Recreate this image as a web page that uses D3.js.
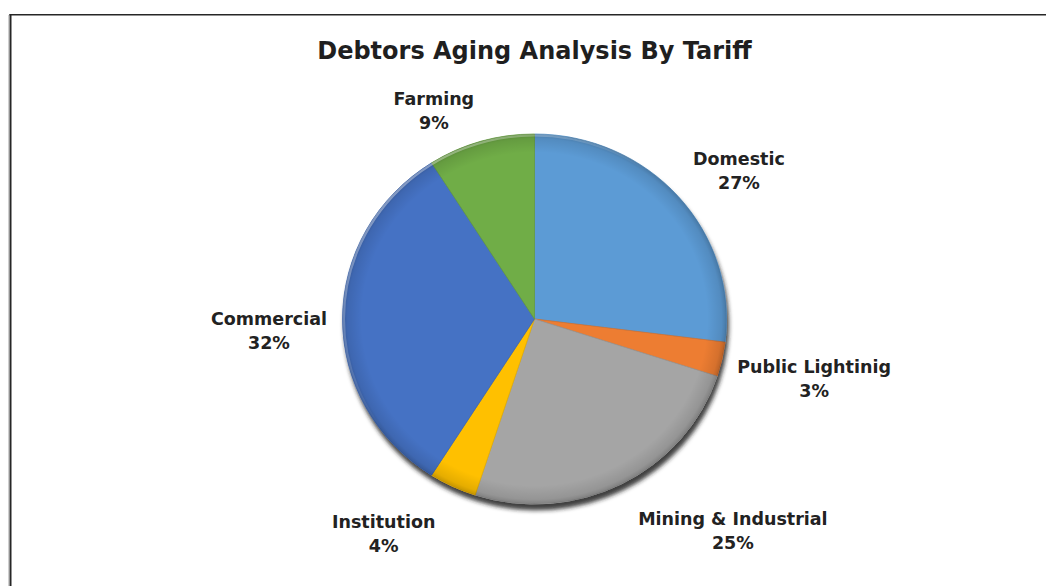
<!DOCTYPE html>
<html>
<head>
<meta charset="utf-8">
<script src="https://cdn.jsdelivr.net/npm/d3@7"></script>
<style>
  html, body { margin: 0; padding: 0; background: #fff; }
  svg { display: block; }
</style>
</head>
<body>
<svg id="chart" width="1046" height="586"></svg>
<script>
// Tariff categories and their share of outstanding debtors (%)
const categories = ["Domestic", "Public Lightinig", "Mining & Industrial", "Institution", "Commercial", "Farming"];
const shares = [27, 3, 25, 4, 32, 9];
const sliceColors = ["#5B9BD5", "#ED7D31", "#A5A5A5", "#FFC000", "#4472C4", "#70AD47"];

// Label placement around the pie: [angle in degrees clockwise from 12 o'clock, distance from centre]
const labelPolar = [[53.0, 256], [100.9, 284.7], [136.1, 286.1], [215.8, 257.8], [268.7, 265.6], [334.8, 236.4]];

const W = 1046, H = 586;
const cx = 534.5, cy = 319, rx = 192, ry = 185;

const svg = d3.select("#chart");
const defs = svg.append("defs");

// dark shadow under the pie, offset toward the lower right
const shadow = defs.append("filter").attr("id", "pieShadow")
  .attr("filterUnits", "userSpaceOnUse")
  .attr("x", 0).attr("y", 0).attr("width", W).attr("height", H);
shadow.append("feDropShadow")
  .attr("dx", 2).attr("dy", 6).attr("stdDeviation", 2.2)
  .attr("flood-color", "#1a1a1a").attr("flood-opacity", 0.85);

// bevel shading overlay: darker rim toward the edge
const rim = defs.append("radialGradient").attr("id", "rimShade")
  .attr("cx", "50%").attr("cy", "50%").attr("r", "50%");
rim.append("stop").attr("offset", "0.90").attr("stop-color", "#000").attr("stop-opacity", 0);
rim.append("stop").attr("offset", "0.975").attr("stop-color", "#000").attr("stop-opacity", 0.10);
rim.append("stop").attr("offset", "1").attr("stop-color", "#000").attr("stop-opacity", 0.22);

// light rim on the upper-left edge
const hi = defs.append("linearGradient").attr("id", "lightEdge")
  .attr("x1", "0").attr("y1", "0").attr("x2", "1").attr("y2", "1");
hi.append("stop").attr("offset", "0").attr("stop-color", "#fff").attr("stop-opacity", 0.55);
hi.append("stop").attr("offset", "0.45").attr("stop-color", "#fff").attr("stop-opacity", 0);

// chart frame (top and left edges visible)
svg.append("line").attr("x1", 8.5).attr("x2", 8.5).attr("y1", 15).attr("y2", H)
  .attr("stroke", "#cfcfcf").attr("stroke-width", 1);
svg.append("line").attr("x1", 10.5).attr("x2", 10.5).attr("y1", 14).attr("y2", H)
  .attr("stroke", "#262626").attr("stroke-width", 2);
svg.append("line").attr("x1", 9.5).attr("x2", W).attr("y1", 14.75).attr("y2", 14.75)
  .attr("stroke", "#262626").attr("stroke-width", 1.5);

// title
svg.append("text")
  .attr("x", cx).attr("y", 59)
  .attr("text-anchor", "middle")
  .attr("font-family", "'DejaVu Sans', Verdana, sans-serif")
  .attr("font-weight", "bold")
  .attr("font-size", 24)
  .attr("fill", "#1f1f1f")
  .text("Debtors Aging Analysis By Tariff");

const data = categories.map((c, i) => ({ name: c, value: shares[i], color: sliceColors[i] }));
const pie = d3.pie().value(d => d.value).sort(null);
const arcs = pie(data);

// unit-radius arc drawn inside a group scaled to the ellipse
const arc = d3.arc().innerRadius(0).outerRadius(1);

// shadow applied in unscaled page space
const shadowG = svg.append("g").attr("filter", "url(#pieShadow)");
const pieG = shadowG.append("g")
  .attr("transform", `translate(${cx},${cy}) scale(${rx},${ry})`);

pieG.selectAll("path.slice")
  .data(arcs)
  .join("path")
  .attr("class", "slice")
  .attr("d", arc)
  .attr("fill", d => d.data.color)
  .attr("stroke", d => d3.color(d.data.color).darker(0.25))
  .attr("stroke-width", 0.004);

// rim shading and highlight
const overG = svg.append("g")
  .attr("transform", `translate(${cx},${cy}) scale(${rx},${ry})`);
overG.append("circle").attr("r", 1).attr("fill", "url(#rimShade)");
overG.append("circle").attr("r", 0.993).attr("fill", "none")
  .attr("stroke", "url(#lightEdge)").attr("stroke-width", 0.012);

// labels: category name and percentage
const rad = Math.PI / 180;
const labels = svg.append("g")
  .attr("font-family", "'DejaVu Sans', Verdana, sans-serif")
  .attr("font-weight", "bold")
  .attr("font-size", 17.5)
  .attr("fill", "#222")
  .attr("text-anchor", "middle");

arcs.forEach((a, i) => {
  const [ang, dist] = labelPolar[i];
  const lx = cx + dist * Math.sin(ang * rad);
  const ly = cy - dist * Math.cos(ang * rad);
  const t = labels.append("text").attr("x", lx).attr("y", ly);
  t.append("tspan").attr("x", lx).text(a.data.name);
  t.append("tspan").attr("x", lx).attr("dy", 24).text(d3.format(".0%")(a.data.value / 100));
});
</script>
</body>
</html>
